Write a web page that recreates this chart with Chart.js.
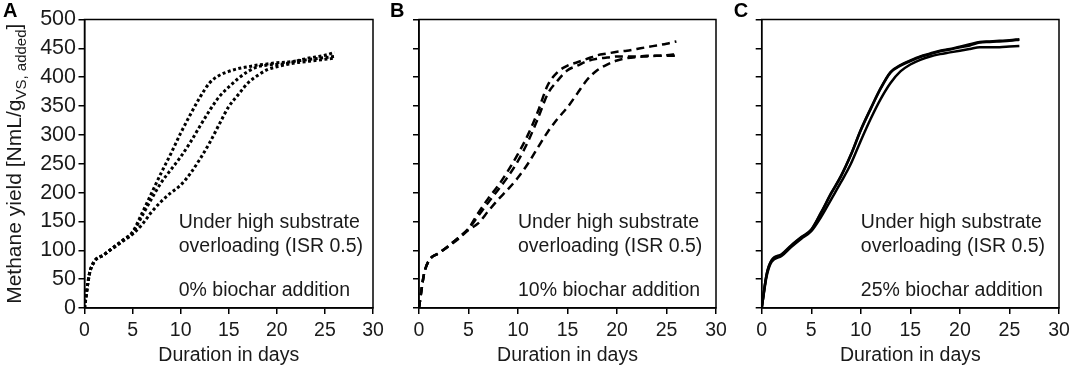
<!DOCTYPE html>
<html>
<head>
<meta charset="utf-8">
<script src="https://cdn.jsdelivr.net/npm/chart.js@4/dist/chart.umd.min.js"></script>
<style>
  body { margin: 0; background: #fff; }
  #wrap { position: relative; width: 1072px; height: 368px; overflow: hidden; }
  canvas { position: absolute; top: 0; }
</style>
</head>
<body>
<div id="wrap">
  <canvas id="chartA" width="395" height="368" style="left:0px"></canvas>
  <canvas id="chartB" width="360" height="368" style="left:375px"></canvas>
  <canvas id="chartC" width="347" height="368" style="left:725px"></canvas>
</div>
<script>
// sampling days (shared by all curves)
var days = [0, 0.5, 1, 2, 3, 4, 5, 6, 7, 8, 9, 10, 11, 12, 13, 14, 15, 16, 17, 18, 19, 20, 21, 22, 23, 24, 25, 26];

// A: 0% biochar (dotted)
var a1 = [0, 58, 80, 92, 105, 118, 132, 165, 200, 235, 268, 303, 335, 365, 390, 403, 410, 415, 418, 421, 423, 425, 426, 428, 430, 432, 434, 436];
var a2 = [0, 58, 80, 92, 105, 117, 130, 160, 190, 218, 240, 262, 287, 315, 342, 366, 383, 398, 410, 418, 421, 422, 424, 428, 432, 435, 438, 443];
var a3 = [0, 58, 80, 92, 104, 116, 128, 145, 167, 185, 200, 213, 233, 258, 286, 318, 349, 370, 390, 403, 413, 418, 422, 425, 427, 429, 431, 433];

// B: 10% biochar (dashed)
var b1 = [0, 58, 82, 95, 108, 122, 138, 165, 190, 212, 238, 267, 300, 340, 386, 409, 420, 426, 432, 438, 441, 444, 446, 449, 452, 455, 458, 462];
var b2 = [0, 58, 82, 95, 108, 122, 137, 160, 183, 205, 228, 255, 288, 328, 371, 394, 412, 420, 428, 432, 434, 436, 436, 436, 437, 437, 437, 437];
var b3 = [0, 58, 82, 95, 107, 120, 135, 147, 168, 188, 206, 226, 250, 278, 305, 328, 348, 372, 396, 412, 422, 429, 433, 435, 436, 437, 438, 440];

// C: 25% biochar (solid)
var c1 = [0, 58, 82, 92, 108, 122, 135, 165, 198, 228, 265, 308, 345, 380, 408, 420, 428, 435, 440, 445, 448, 452, 455, 460, 461, 462, 463, 465];
var c2 = [0, 55, 80, 90, 106, 120, 133, 158, 188, 218, 250, 290, 328, 362, 390, 410, 422, 430, 436, 440, 443, 446, 449, 452, 452, 452, 453, 454];
var c3 = [0, 59, 83, 93, 109, 123, 136, 166, 199, 229, 266, 309, 346, 381, 409, 421, 429, 436, 441, 446, 449, 453, 457, 461, 462, 463, 464, 466];

var xTicks = [0, 5, 10, 15, 20, 25, 30];
var yTicks = [0, 50, 100, 150, 200, 250, 300, 350, 400, 450, 500];

var FONT = '"Liberation Sans", Arial, sans-serif';

function pts(arr) {
    return days.map(function (d, i) { return { x: d, y: arr[i] }; });
}

// frame, panel letter, notes and axis titles
var panelText = {
    id: 'panelText',
    afterDraw: function (chart, args, opts) {
        var ctx = chart.ctx;
        var a = chart.chartArea;
        ctx.save();
        ctx.strokeStyle = '#000';
        ctx.lineWidth = 1.5;
        ctx.strokeRect(a.left, a.top, a.right - a.left, a.bottom - a.top);

        ctx.fillStyle = '#000';
        ctx.textAlign = 'left';
        ctx.textBaseline = 'alphabetic';
        ctx.font = 'bold 20px ' + FONT;
        ctx.fillText(opts.letter, a.left + opts.letterDx, 17);

        ctx.fillStyle = '#1a1a1a';
        ctx.font = '19.5px ' + FONT;
        var x0 = chart.scales.x.getPixelForValue(opts.noteX);
        ctx.fillText('Under high substrate', x0, a.bottom - 80);
        ctx.fillText('overloading (ISR 0.5)', x0, a.bottom - 56);
        ctx.fillText(opts.note, x0, a.bottom - 12);

        ctx.textAlign = 'center';
        ctx.fillText('Duration in days', (a.left + a.right) / 2, 361);

        if (opts.yTitle) {
            var main = 'Methane yield [NmL/g';
            var sub = 'VS, added';
            var fMain = '21px ' + FONT, fSub = '15px ' + FONT;
            ctx.font = fMain;
            var w1 = ctx.measureText(main).width;
            var w3 = ctx.measureText(']').width;
            ctx.font = fSub;
            var w2 = ctx.measureText(sub).width;
            var total = w1 + w2 + w3;
            ctx.translate(21, (a.top + a.bottom) / 2);
            ctx.rotate(-Math.PI / 2);
            ctx.textAlign = 'left';
            var sx = -total / 2;
            ctx.font = fMain;
            ctx.fillText(main, sx, 0);
            ctx.font = fSub;
            ctx.fillText(sub, sx + w1, 5);
            ctx.font = fMain;
            ctx.fillText(']', sx + w1 + w2, 0);
        }
        ctx.restore();
    }
};

function drawPanel(canvasId, series, dash, lineW, cfg) {
    var ctx = document.getElementById(canvasId).getContext('2d');
    var sets = series.map(function (s) {
        return {
            data: pts(s),
            borderColor: '#000',
            borderWidth: lineW,
            borderDash: dash,
            borderCapStyle: 'butt',
            pointRadius: 0,
            fill: false,
            cubicInterpolationMode: 'monotone'
        };
    });
    new Chart(ctx, {
        type: 'line',
        data: { datasets: sets },
        options: {
            responsive: false,
            animation: false,
            devicePixelRatio: 1,
            layout: { padding: { top: 19.5, right: cfg.padRight, left: 0, bottom: 0 } },
            plugins: {
                legend: { display: false },
                tooltip: { enabled: false },
                panelText: cfg
            },
            scales: {
                x: {
                    type: 'linear',
                    min: 0,
                    max: 30,
                    afterBuildTicks: function (s) { s.ticks = xTicks.map(function (v) { return { value: v }; }); },
                    afterFit: function (s) { s.height = 60; s.paddingLeft = 0; s.paddingRight = 0; },
                    grid: { drawOnChartArea: false, drawTicks: true, tickLength: 6, color: '#000', lineWidth: 1.5 },
                    border: { display: true, color: '#000', width: 1.5 },
                    ticks: { color: '#1a1a1a', font: { family: FONT, size: 19.5 }, padding: 5, maxRotation: 0 }
                },
                y: {
                    min: 0,
                    max: 500,
                    afterBuildTicks: function (s) { s.ticks = yTicks.map(function (v) { return { value: v }; }); },
                    afterFit: function (s) { s.width = cfg.yWidth; s.paddingTop = 0; s.paddingBottom = 0; },
                    grid: { drawOnChartArea: false, drawTicks: true, tickLength: 6, color: '#000', lineWidth: 1.5 },
                    border: { display: true, color: '#000', width: 1.5 },
                    ticks: { display: cfg.yLabels, color: '#1a1a1a', font: { family: FONT, size: 21.5 }, padding: 2.5 }
                }
            }
        },
        plugins: [panelText]
    });
}

drawPanel('chartA', [a1, a2, a3], [3, 2.5], 3, {
    letter: 'A', letterDx: -81.5, note: '0% biochar addition', noteX: 9.8,
    yTitle: true, yLabels: true, yWidth: 84.5, padRight: 22
});
drawPanel('chartB', [b1, b2, b3], [8, 5], 2.5, {
    letter: 'B', letterDx: -29, note: '10% biochar addition', noteX: 10,
    yTitle: false, yLabels: false, yWidth: 44, padRight: 19
});
drawPanel('chartC', [c1, c2, c3], [], 2.5, {
    letter: 'C', letterDx: -28, note: '25% biochar addition', noteX: 10,
    yTitle: false, yLabels: false, yWidth: 36.7, padRight: 13
});
</script>
</body>
</html>
